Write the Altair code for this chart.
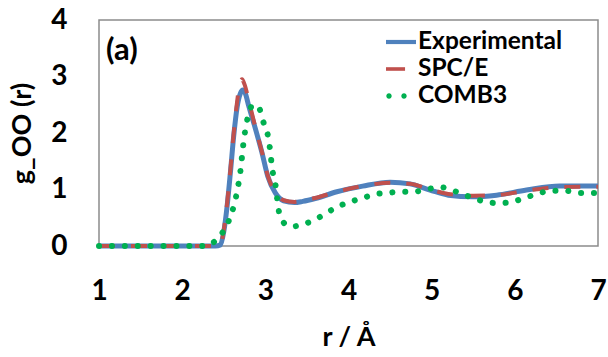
import altair as alt
import pandas as pd

# Radial distribution function g_OO(r) for liquid water
series_names = ["Experimental", "SPC/E", "COMB3"]
series_colors = ["#4F81BD", "#C0504D", "#00B050"]
panel_label = ["(a)"]

exp_r = [1.00, 2.40, 2.46, 2.50, 2.54, 2.58, 2.62, 2.66, 2.70, 2.73, 2.76, 2.80, 2.86,
         2.96, 3.03, 3.12, 3.22, 3.35, 3.45, 3.60, 3.86, 4.17, 4.50, 4.74, 4.98, 5.20,
         5.50, 5.78, 6.14, 6.54, 7.00]
exp_g = [0.00, 0.00, 0.02, 0.25, 0.70, 1.30, 1.95, 2.45, 2.70, 2.76, 2.70, 2.48, 2.18,
         1.65, 1.23, 0.94, 0.80, 0.77, 0.79, 0.84, 0.96, 1.06, 1.13, 1.10, 0.99, 0.90,
         0.87, 0.90, 0.99, 1.06, 1.06]

spc_r = [1.00, 2.40, 2.46, 2.50, 2.54, 2.58, 2.62, 2.66, 2.69, 2.72, 2.75, 2.80, 2.86,
         2.96, 3.03, 3.12, 3.22, 3.35, 3.45, 3.60, 3.86, 4.17, 4.50, 4.74, 4.98, 5.20,
         5.50, 5.78, 6.14, 6.54, 7.00]
spc_g = [0.00, 0.00, 0.02, 0.28, 0.75, 1.35, 2.00, 2.55, 2.85, 2.95, 2.86, 2.58, 2.22,
         1.66, 1.24, 0.95, 0.81, 0.78, 0.80, 0.85, 0.96, 1.06, 1.12, 1.10, 1.00, 0.92,
         0.89, 0.90, 0.98, 1.04, 1.05]

comb_r = [1.00, 2.30, 2.39, 2.49, 2.58, 2.63, 2.67, 2.70, 2.72, 2.74, 2.77, 2.81, 2.86,
          2.92, 2.97, 3.03, 3.06, 3.08, 3.12, 3.14, 3.17, 3.26, 3.35, 3.44, 3.59, 3.74,
          3.89, 4.04, 4.19, 4.33, 4.47, 4.63, 4.78, 4.96, 5.11, 5.26, 5.44, 5.60, 5.78,
          5.94, 6.11, 6.27, 6.43, 6.60, 6.78, 7.00]
comb_g = [0.00, 0.00, 0.08, 0.25, 0.52, 0.76, 1.04, 1.32, 1.59, 1.86, 2.14, 2.40, 2.50,
          2.46, 2.22, 1.96, 1.67, 1.39, 1.11, 0.86, 0.57, 0.37, 0.35, 0.38, 0.46, 0.59,
          0.71, 0.79, 0.86, 0.92, 0.94, 0.96, 0.96, 1.01, 1.04, 0.98, 0.88, 0.80, 0.76,
          0.77, 0.85, 0.92, 0.98, 0.98, 0.94, 0.94]

x_ticks = [1, 2, 3, 4, 5, 6, 7]
y_ticks = [0, 1, 2, 3, 4]

rows = []
for name, rs, gs in zip(series_names, [exp_r, spc_r, comb_r], [exp_g, spc_g, comb_g]):
    for i, (r, g) in enumerate(zip(rs, gs)):
        rows.append({"series": name, "r": r, "g": g, "i": i})
df = pd.DataFrame(rows)

FONT = "Lato"

x_enc = alt.X(
    "r:Q",
    scale=alt.Scale(domain=[1, 7], nice=False, zero=False),
    axis=alt.Axis(
        values=x_ticks, title="r / Å", grid=False, domain=False, ticks=False, tickSize=0,
        labelFont=FONT, labelFontSize=28, labelFontWeight="bold", labelColor="#000000",
        labelBaseline="middle", labelPadding=45, labelAngle=0, labelFlush=False,
        titleFont=FONT, titleFontSize=27, titleFontWeight="bold", titleColor="#000000",
        titleBaseline="alphabetic", titleY=99,
    ),
)
y_enc = alt.Y(
    "g:Q",
    scale=alt.Scale(domain=[0, 4], nice=False),
    axis=alt.Axis(
        values=y_ticks, title="g_OO (r)", grid=False, domain=False, ticks=False, tickSize=0,
        labelFont=FONT, labelFontSize=28, labelFontWeight="bold", labelColor="#000000",
        labelBaseline="middle", labelPadding=32, labelFlush=False,
        titleFont=FONT, titleFontSize=27, titleFontWeight="bold", titleColor="#000000",
        titleAngle=-90, titleBaseline="middle", titleAlign="center", titleX=-77, titleY=113,
    ),
)

line_styles = {
    "Experimental": dict(strokeWidth=5, strokeCap="butt"),
    "SPC/E": dict(strokeWidth=4, strokeDash=[16, 16], strokeCap="butt"),
    "COMB3": dict(strokeWidth=6, strokeDash=[0.1, 12.8], strokeCap="round"),
}

layers = []
for name, color in zip(series_names, series_colors):
    layers.append(
        alt.Chart(df)
        .transform_filter(alt.datum.series == name)
        .mark_line(interpolate="monotone", color=color, **line_styles[name])
        .encode(x=x_enc, y=y_enc, order="i:Q")
    )

# Legend glyphs (filled outlines): solid bar, one long dash, two dots
legend_shapes = [
    "M-1,-0.14L1,-0.14L1,0.14L-1,0.14Z",
    "M-1,-0.12L0.27,-0.12L0.27,0.12L-1,0.12Z",
    "M-0.98,0A0.18,0.18 0 1,0 -0.62,0A0.18,0.18 0 1,0 -0.98,0Z"
    "M0.02,0A0.18,0.18 0 1,0 0.38,0A0.18,0.18 0 1,0 0.02,0Z",
]
legend_props = dict(
    title=None, orient="none", legendX=287, legendY=7, padding=0,
    symbolSize=900, symbolStrokeWidth=0, rowPadding=-1, labelOffset=2,
    labelFont=FONT, labelFontSize=24.5, labelFontWeight="bold", labelColor="#000000",
    labelBaseline="middle",
)
legend_layer = (
    alt.Chart(df)
    .transform_filter("false")
    .mark_point(filled=True, size=900, strokeWidth=0, opacity=1)
    .encode(
        x=x_enc,
        y=y_enc,
        color=alt.Color("series:N", scale=alt.Scale(domain=series_names, range=series_colors),
                        legend=alt.Legend(**legend_props)),
        shape=alt.Shape("series:N", scale=alt.Scale(domain=series_names, range=legend_shapes),
                        legend=alt.Legend(**legend_props)),
    )
)

# Panel tag in the top-left corner of the plot frame
tag_layer = (
    alt.Chart(pd.DataFrame({"tag": panel_label}))
    .mark_text(font=FONT, fontSize=31, fontWeight="bold", color="#000000",
               align="left", baseline="alphabetic")
    .encode(text="tag:N", x=alt.value(7), y=alt.value(40))
)

chart = (
    alt.layer(*layers, legend_layer, tag_layer)
    .properties(
        width=499,
        height=226,
        padding={"left": 99, "top": 20, "right": 10, "bottom": 111},
        autosize=alt.AutoSizeParams(type="none"),
        background="#ffffff",
    )
    .configure_view(stroke="#8c8c8c", strokeWidth=1.5)
)

chart.save("out.html", embed_options={"renderer": "svg", "actions": False})
